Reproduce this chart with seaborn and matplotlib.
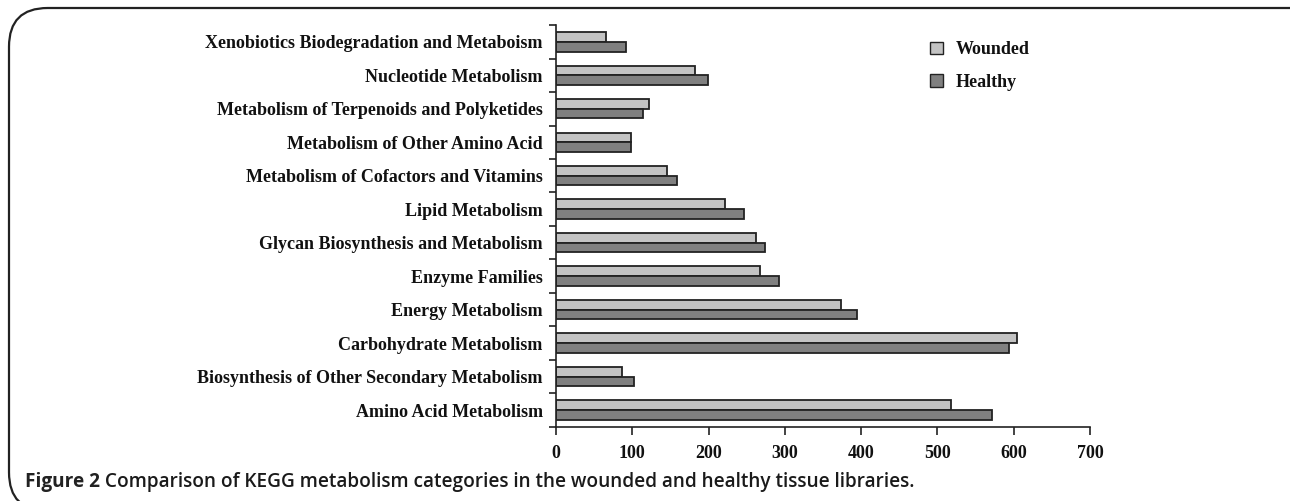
import numpy as np
import pandas as pd
import matplotlib
matplotlib.use("Agg")
import matplotlib.pyplot as plt
import seaborn as sns
from matplotlib.patches import FancyBboxPatch, Patch
from matplotlib.ticker import FixedLocator

# ------------------------------------------------------------
# Data, listed top to bottom
# ------------------------------------------------------------
categories = [
    "Xenobiotics Biodegradation and Metaboism",
    "Nucleotide Metabolism",
    "Metabolism of Terpenoids and Polyketides",
    "Metabolism of Other Amino Acid",
    "Metabolism of Cofactors and Vitamins",
    "Lipid Metabolism",
    "Glycan Biosynthesis and Metabolism",
    "Enzyme Families",
    "Energy Metabolism",
    "Carbohydrate Metabolism",
    "Biosynthesis of Other Secondary Metabolism",
    "Amino Acid Metabolism",
]
wounded = [66, 182, 122, 98, 145, 221, 262, 267, 374, 604, 87, 518]
healthy = [92, 199, 114, 98, 159, 246, 274, 292, 394, 594, 102, 571]
groups = ["Wounded", "Healthy"]
x_ticks = [0, 100, 200, 300, 400, 500, 600, 700]
caption_bold = "Figure 2"
caption_rest = " Comparison of KEGG metabolism categories in the wounded and healthy tissue libraries."

df = pd.DataFrame({
    "category": categories * 2,
    "count": wounded + healthy,
    "library": [groups[0]] * len(categories) + [groups[1]] * len(categories),
})

colors = {"Wounded": "#c3c3c3", "Healthy": "#808080"}
serif = ["Liberation Serif", "DejaVu Serif"]
fs = 13.0

sns.set_style("white")

fig = plt.figure(figsize=(12.9, 5.01), dpi=100)
ax = fig.add_axes([0.431, 0.148, 0.414, 0.802])

sns.barplot(
    data=df, y="category", x="count", hue="library",
    order=categories, hue_order=groups, palette=colors,
    orient="h", width=0.58, gap=0, dodge=True,
    edgecolor="#222222", linewidth=1.3, ax=ax, legend=False,
)

ax.set_xlim(0, 700)
ax.set_ylim(len(categories) - 0.5, -0.5)
ax.set_xlabel("")
ax.set_ylabel("")

sns.despine(ax=ax, top=True, right=True)
for side in ["left", "bottom"]:
    ax.spines[side].set_color("#222222")
    ax.spines[side].set_linewidth(1.2)

ax.set_xticks(x_ticks)
ax.set_xticklabels([str(t) for t in x_ticks], family=serif,
                   fontweight="bold", fontsize=fs, color="#111111")
ax.tick_params(axis="x", direction="out", length=6, width=1.2,
               color="#222222", pad=7, bottom=True)

ax.set_yticks(range(len(categories)))
ax.set_yticklabels(categories, family=serif, fontweight="bold", fontsize=fs,
                   color="#111111")
ax.tick_params(axis="y", which="major", length=0, pad=9.5)
ax.yaxis.set_minor_locator(FixedLocator(np.arange(-0.5, len(categories), 1.0)))
ax.tick_params(axis="y", which="minor", direction="out", length=5,
               width=1.2, color="#222222", left=True)

handles = [Patch(facecolor=colors[g], edgecolor="#222222", linewidth=1.0, label=g)
           for g in groups]
leg = ax.legend(handles=handles, loc="upper left", bbox_to_anchor=(0.67, 1.0),
                frameon=False, handlelength=0.7, handleheight=0.7,
                handletextpad=0.7, labelspacing=0.85,
                prop={"family": serif, "weight": "bold", "size": fs})
for t in leg.get_texts():
    t.set_color("#111111")

# rounded frame around the figure (cut at right and bottom as in the source)
frame = FancyBboxPatch((9 / 1290, -0.02), 1.2, 1 - 8 / 501 + 0.02,
                       boxstyle="round,pad=0,rounding_size=0.03",
                       transform=fig.transFigure, fill=False,
                       edgecolor="#222222", linewidth=1.6, clip_on=False,
                       mutation_aspect=1290 / 501)
fig.patches.append(frame)

t1 = fig.text(25 / 1290, 1 - 487 / 501, caption_bold, family="Open Sans",
              fontweight="bold", fontsize=13.7, color="#222222", va="baseline")
fig.canvas.draw()
bb = t1.get_window_extent()
fig.text(bb.x1 / fig.bbox.width, 1 - 487 / 501, caption_rest, family="Open Sans",
         fontweight="semibold", fontsize=13.7, color="#1a1a1a", va="baseline")

fig.savefig("out.png", dpi=100)
